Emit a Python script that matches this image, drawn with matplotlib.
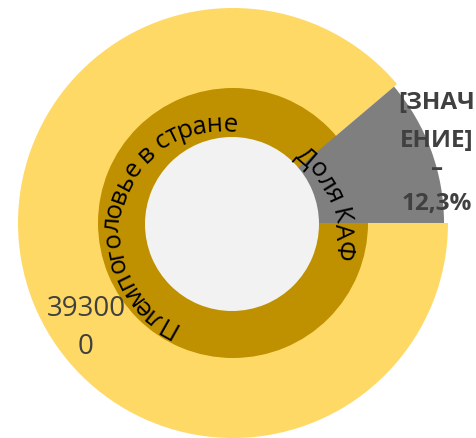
import numpy as np
import matplotlib
matplotlib.use("Agg")
import matplotlib.pyplot as plt

FAM = ['Open Sans', 'DejaVu Sans']
plt.rcParams['font.family'] = FAM

# ---- data ----
categories = ['Племпоголовье в стране', 'Доля КАФ']
outer_values = [393000, 49500]
inner_values = [1]
value_label = '39300\n0'
kaf_label_lines = ['[ЗНАЧ', 'ЕНИЕ]', '–', '12,3%']

YELLOW = '#FFD966'
GOLD = '#BF9000'
GREY = '#7F7F7F'
HOLE = '#F2F2F2'
TXT = '#404040'

W, H = 477, 439
fig = plt.figure(figsize=(W / 100, H / 100), dpi=100)
ax = fig.add_axes([0, 0, 1, 1])

C = (233, H - 224)

# outer yellow slice (grey slice left empty)
ax.pie(outer_values, colors=[YELLOW, 'none'], radius=215, center=C,
       startangle=0, counterclock=False)
# inner gold ring
ax.pie(inner_values, colors=[GOLD], radius=135, center=C)
# exploded grey slice on top
ax.pie(outer_values, colors=['none', GREY], radius=211, center=C,
       startangle=0, counterclock=False, explode=[0, 6 / 211])
# centre hole
ax.pie(inner_values, colors=[HOLE], radius=87, center=(232, H - 225))

ax.set_xlim(0, W)
ax.set_ylim(0, H)
ax.axis('off')

renderer = fig.canvas.get_renderer()


def text_width(s, size, weight='normal'):
    t = ax.text(0, 0, s, fontsize=size, fontweight=weight)
    bb = t.get_window_extent(renderer)
    t.remove()
    return bb.width


def curved_text(s, cx, cy, r, a0, a1, size, color):
    base = text_width('нн', size)
    widths = np.array([text_width('н' + ch + 'н', size) - base for ch in s])
    centers = np.cumsum(widths) - widths / 2
    ang = a0 + (centers - centers[0]) / (centers[-1] - centers[0]) * (a1 - a0)
    for ch, a in zip(s, ang):
        th = np.radians(a)
        ax.text(cx + r * np.cos(th), cy + r * np.sin(th), ch,
                rotation=a - 90, rotation_mode='anchor',
                ha='center', va='center', fontsize=size, color=color)


curved_text(categories[0], 220, H - 232, 107, 240.6, 84.7, 18.5, 'black')
curved_text(categories[1], 234.6, H - 239.7, 108, 49, -5.7, 18.5, 'black')

# value labels
ax.text(86, H - 328, value_label, ha='center', va='center', fontsize=20,
        color=TXT, linespacing=1.45)
for line, y in zip(kaf_label_lines, [103, 141, 169, 204]):
    ax.text(437, H - y, line, ha='center', va='center', fontsize=17.5,
            fontweight='bold', color=TXT)

fig.savefig('out.png', dpi=100)
